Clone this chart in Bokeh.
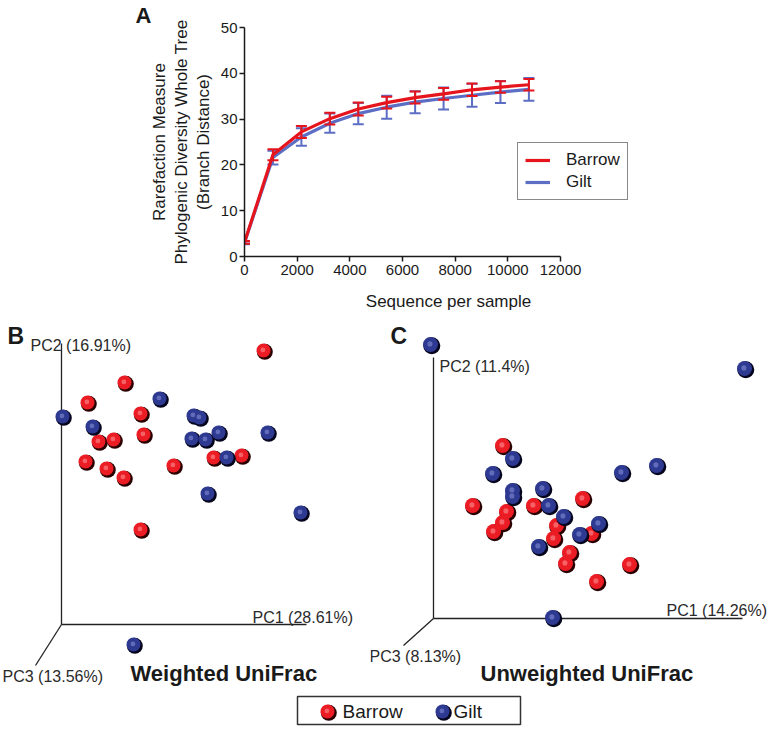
from bokeh.plotting import figure
from bokeh.models import Range1d, FixedTicker, Legend, LegendItem, ColumnDataSource
from bokeh.layouts import column, row
from bokeh.transform import dodge
from bokeh.core.properties import value
from bokeh.embed import file_html
from bokeh.resources import INLINE

# ---------------- Panel A: rarefaction curves ----------------
seq_depth = [0, 1080, 2160, 3240, 4320, 5400, 6480, 7560, 8640, 9720, 10800]
barrow_mean = [3.1, 22.2, 27.2, 30.1, 32.2, 33.6, 34.7, 35.5, 36.4, 37.0, 37.5]
barrow_sd = [0.3, 1.2, 1.3, 1.3, 1.4, 1.3, 1.3, 1.3, 1.35, 1.25, 1.25]
gilt_mean = [3.0, 21.6, 26.1, 29.1, 31.2, 32.6, 33.7, 34.5, 35.2, 35.9, 36.5]
gilt_sd = [0.3, 1.5, 1.9, 2.1, 2.3, 2.5, 2.4, 2.4, 2.5, 2.4, 2.5]
x_ticks = [0, 2000, 4000, 6000, 8000, 10000, 12000]
y_ticks = [0, 10, 20, 30, 40, 50]
x_axis_max = 12000
y_axis_max = 50

# ---------------- Panel B: weighted UniFrac PCoA (projected) ----------------
b_barrow_x = [202, 63, 26, 79, 82, 37, 52, 24, 45, 62, 112, 152, 180, 79]
b_barrow_y = [274, 242, 222, 211, 190, 183, 185, 163, 156, 147, 159, 167, 169, 95]
b_gilt_x = [1, 31, 98, 132, 138, 157, 130, 144, 206, 165, 146, 239, 72]
b_gilt_y = [208, 198, 226, 209, 207, 192, 186, 185, 192, 167, 131, 112, -20]
b_axis_end_x = [245, 0, -26]
b_axis_end_y = [0, 281, -41]
b_axis_labels = ["PC1 (28.61%)", "PC2 (16.91%)", "PC3 (13.56%)"]

# ---------------- Panel C: unweighted UniFrac PCoA (projected) ----------------
c_barrow_x = [69, 39, 73, 69, 60, 100, 149, 123, 120, 158, 136, 132, 196, 163]
c_barrow_y = [173, 113, 107, 96, 87, 113, 120, 93, 80, 85, 66, 55, 54, 37]
c_gilt_x = [-3, 311, 79, 59, 79, 79, 109, 115, 130, 165, 146, 105, 188, 223, 119]
c_gilt_y = [274, 250, 160, 145, 128, 122, 130, 113, 102, 95, 84, 72, 146, 153, 1]
c_axis_end_x = [309, 0, -30]
c_axis_end_y = [0, 261, -27]
c_axis_labels = ["PC1 (14.26%)", "PC2 (11.4%)", "PC3 (8.13%)"]

groups = ["Barrow", "Gilt"]

FONT = "Liberation Sans"
RED = "#e6141c"
BLUE_LINE = "#5b6ec4"
SPH_RED = ("#ec1c24", "#2a0000", "#ff9a9a")
SPH_BLUE = ("#2e3a92", "#05051e", "#8a96d8")
INK = "#1a1a1a"

# layout of panel A (pixels)
A_LEFT, A_AXIS_W, A_FRAME_W, A_TOP, A_FRAME_H, A_H, W = 244, 316, 408, 26, 231, 313, 777

# ================= Figure A =================
pA = figure(width=W, height=A_H,
            x_range=Range1d(0, x_axis_max * A_FRAME_W / A_AXIS_W), y_range=Range1d(0, y_axis_max),
            output_backend="svg", toolbar_location=None,
            min_border_left=A_LEFT, min_border_right=W - A_LEFT - A_FRAME_W,
            min_border_top=A_TOP, min_border_bottom=A_H - A_TOP - A_FRAME_H)
pA.grid.visible = False
pA.outline_line_color = None


def add_series(p, mean, sd, color):
    lo = [m - s for m, s in zip(mean, sd)]
    hi = [m + s for m, s in zip(mean, sd)]
    src = ColumnDataSource(dict(x=seq_depth, m=mean, lo=lo, hi=hi))
    p.segment(x0="x", y0="lo", x1="x", y1="hi", source=src, line_color=color, line_width=2)
    p.scatter(x="x", y="lo", marker="dash", size=11, line_color=color, line_width=2, source=src)
    p.scatter(x="x", y="hi", marker="dash", size=11, line_color=color, line_width=2, source=src)
    return p.line(x="x", y="m", source=src, line_color=color, line_width=3.2)


gilt_r = add_series(pA, gilt_mean, gilt_sd, BLUE_LINE)
barrow_r = add_series(pA, barrow_mean, barrow_sd, RED)

pA.xaxis.ticker = FixedTicker(ticks=x_ticks)
pA.yaxis.ticker = FixedTicker(ticks=y_ticks)
pA.xaxis.bounds = (0, x_axis_max)
for ax in (pA.xaxis[0], pA.yaxis[0]):
    ax.axis_line_color = INK
    ax.axis_line_width = 1.5
    ax.major_tick_line_color = INK
    ax.major_tick_line_width = 1.5
    ax.major_tick_in = 0
    ax.major_tick_out = 5
    ax.minor_tick_line_color = None
    ax.major_label_text_font = FONT
    ax.major_label_text_font_size = "15px"
    ax.major_label_text_color = INK
    ax.axis_label_text_font = FONT
    ax.axis_label_text_font_size = "17px"
    ax.axis_label_text_font_style = "normal"
    ax.axis_label_text_color = INK
pA.xaxis.axis_label = "Sequence per sample"
pA.xaxis.major_label_standoff = 3
pA.xaxis.axis_label_standoff = 14
pA.yaxis.axis_label = "Rarefaction Measure\nPhylogenic Diversity Whole Tree\n(Branch Distance)"
pA.yaxis.axis_label_text_line_height = 1.15
pA.yaxis.major_label_standoff = 2
pA.yaxis.axis_label_standoff = 5

legA = Legend(items=[LegendItem(label=groups[0], renderers=[barrow_r]),
                     LegendItem(label=groups[1], renderers=[gilt_r])],
              location=(273, 56), border_line_color="#111", border_line_width=1.5,
              background_fill_color="white", background_fill_alpha=1.0,
              label_text_font=FONT, label_text_font_size="17px", label_text_color=INK,
              glyph_width=25, glyph_height=18, label_height=18, label_standoff=16,
              padding=7, spacing=2, margin=0)
pA.add_layout(legA, "center")

pA.title.text = "A"
pA.title.align = "left"
pA.title.offset = 135 - A_LEFT
pA.title.standoff = 0
pA.title.text_font = FONT
pA.title.text_font_style = "bold"
pA.title.text_font_size = "22px"
pA.title.text_color = INK


# ================= helpers for B / C =================
def plain_fig(w, h, xr, yr, **kw):
    p = figure(width=w, height=h, x_range=Range1d(*xr), y_range=Range1d(*yr),
               x_axis_type=None, y_axis_type=None, output_backend="svg",
               toolbar_location=None, **kw)
    p.outline_line_color = None
    p.grid.visible = False
    return p


def spheres(p, xs, ys, colors, size, ydir=1):
    main, dark, hi = colors
    src = ColumnDataSource(dict(x=xs, y=ys))
    p.scatter(x=dodge("x", 1.3), y=dodge("y", -1.3 * ydir), size=size, fill_color=dark,
              line_color=None, source=src)
    p.scatter(x="x", y="y", size=size - 2, fill_color=main, line_color=None, source=src)
    p.scatter(x=dodge("x", -0.6), y=dodge("y", 0.6 * ydir), size=size * 0.3, fill_color=hi,
              fill_alpha=0.55, line_color=None, source=src)


def pcoa_axes(p, ex, ey):
    p.segment(x0=[0] * len(ex), y0=[0] * len(ey), x1=ex, y1=ey, line_color="#222", line_width=1.3)


def txt(p, x, y, s, size, bold=False, baseline="middle", color="#2a2a2a"):
    p.text(x=[x], y=[y], text=[s], text_font=value(FONT), text_font_size=size,
           text_font_style="bold" if bold else "normal", text_color=color,
           text_baseline=baseline, text_align="left")


# ================= Figure B =================
pB = plain_fig(370, 377, (-61, 309), (-66, 311), min_border=0)
pcoa_axes(pB, b_axis_end_x, b_axis_end_y)
spheres(pB, b_barrow_x, b_barrow_y, SPH_RED, 16)
spheres(pB, b_gilt_x, b_gilt_y, SPH_BLUE, 16)
txt(pB, 191, 7, b_axis_labels[0], "16px")
txt(pB, -31, 279, b_axis_labels[1], "16px")
txt(pB, -59, -52, b_axis_labels[2], "16px")
txt(pB, 69, -49, "Weighted UniFrac", "22px", bold=True, baseline="alphabetic", color=INK)
txt(pB, -54, 289, "B", "23px", bold=True, baseline="alphabetic", color=INK)

# ================= Figure C =================
pC = plain_fig(407, 377, (-63, 344), (-72, 305), min_border=0)
pcoa_axes(pC, c_axis_end_x, c_axis_end_y)
spheres(pC, c_barrow_x, c_barrow_y, SPH_RED, 17)
spheres(pC, c_gilt_x, c_gilt_y, SPH_BLUE, 17)
txt(pC, 233, 8, c_axis_labels[0], "16px")
txt(pC, 6, 252, c_axis_labels[1], "16px")
txt(pC, -64, -38, c_axis_labels[2], "16px")
txt(pC, 47, -55, "Unweighted UniFrac", "22px", bold=True, baseline="alphabetic", color=INK)
txt(pC, -43, 283, "C", "23px", bold=True, baseline="alphabetic", color=INK)

# ================= shared legend (page x coordinates, y from top of strip) =================
pL = plain_fig(W, 43, (A_LEFT, A_LEFT + A_FRAME_W), (43, 0),
               min_border_left=A_LEFT, min_border_right=W - A_LEFT - A_FRAME_W,
               min_border_top=0, min_border_bottom=0)
pL.quad(left=[297], right=[520], top=[6], bottom=[34], fill_color="white",
        line_color="#333", line_width=1.5)
spheres(pL, [327], [21], SPH_RED, 16, ydir=-1)
spheres(pL, [442], [21], SPH_BLUE, 16, ydir=-1)
txt(pL, 342, 21, groups[0], "19px", color=INK)
txt(pL, 453, 21, groups[1], "19px", color=INK)

layout = column(pA, row(pB, pC), pL)
open("out.html", "w").write(file_html(layout, INLINE))
